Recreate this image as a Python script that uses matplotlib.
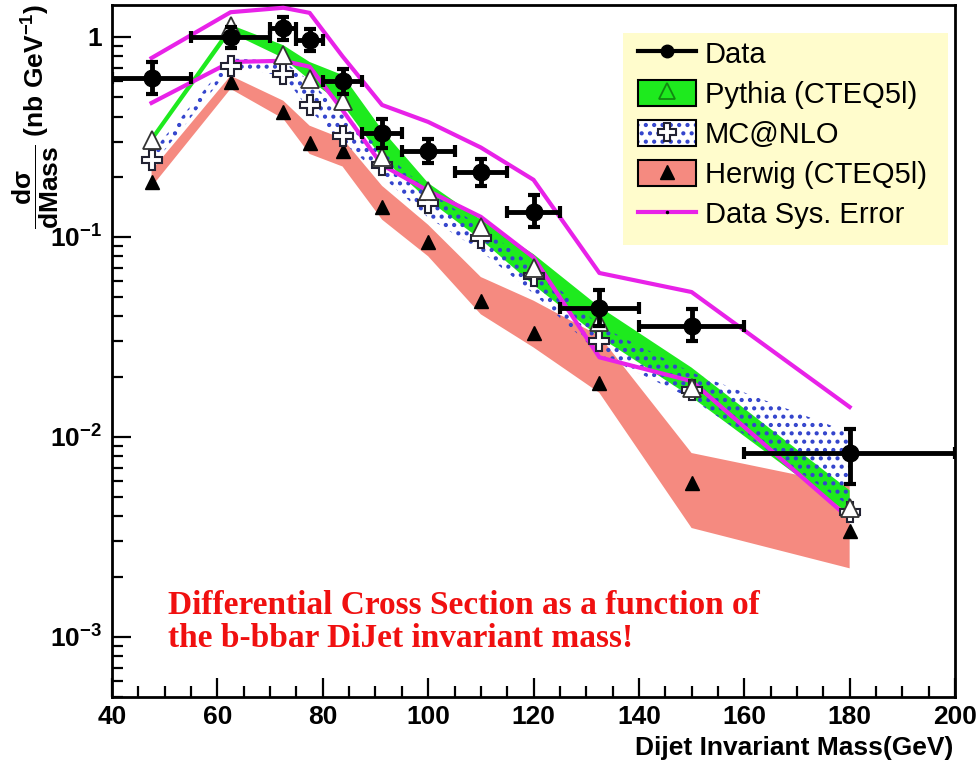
import matplotlib
matplotlib.use('Agg')
import matplotlib.pyplot as plt
from matplotlib.lines import Line2D
from matplotlib.patches import Patch, Rectangle
from matplotlib.ticker import MultipleLocator, LogLocator, NullFormatter

plt.rcParams['font.family'] = ['Liberation Sans', 'DejaVu Sans']
plt.rcParams['mathtext.fontset'] = 'custom'
plt.rcParams['mathtext.rm'] = 'Liberation Sans'
plt.rcParams['mathtext.bf'] = 'Liberation Sans:bold'
plt.rcParams['mathtext.it'] = 'Liberation Sans:italic'
plt.rcParams['hatch.linewidth'] = 1.8

# bin centres and edges (GeV)
mass = [47.5, 62.5, 72.5, 77.5, 83.75, 91.25, 100, 110, 120, 132.5, 150, 180]
mass_lo = [40, 55, 70, 75, 80, 87.5, 95, 105, 115, 125, 140, 160]
mass_hi = [55, 70, 75, 80, 87.5, 95, 105, 115, 125, 140, 160, 200]

# measured cross section (nb/GeV)
data = [0.62, 1.0, 1.11, 0.97, 0.60, 0.33, 0.27, 0.21, 0.133, 0.044, 0.036, 0.0083]
data_err_lo = [0.10, 0.12, 0.14, 0.12, 0.08, 0.05, 0.035, 0.03, 0.021, 0.008, 0.006, 0.0025]
data_err_hi = [0.13, 0.12, 0.15, 0.12, 0.09, 0.06, 0.04, 0.035, 0.029, 0.010, 0.0075, 0.0027]

# systematic error envelope
sys_hi = [0.785, 1.33, 1.40, 1.32, 0.80, 0.457, 0.376, 0.28, 0.193, 0.066, 0.053, 0.0141]
sys_lo = [0.468, 0.75, 0.76, 0.71, 0.43, 0.229, 0.17, 0.126, 0.079, 0.025, 0.019, 0.0039]

# Pythia (CTEQ5l)
pythia = [0.305, 1.13, 0.81, 0.617, 0.479, 0.25, 0.17, 0.112, 0.070, 0.0375, 0.0176, 0.0044]
pythia_hi = [0.32, 1.15, 0.91, 0.75, 0.645, 0.343, 0.186, 0.122, 0.082, 0.0447, 0.0222, 0.0054]
pythia_lo = [0.295, 1.05, 0.785, 0.61, 0.46, 0.248, 0.153, 0.097, 0.0575, 0.0316, 0.0158, 0.0041]

# MC@NLO
mcnlo = [0.242, 0.72, 0.65, 0.457, 0.32, 0.229, 0.148, 0.099, 0.064, 0.030, 0.0172, 0.0042]
mcnlo_hi = [0.265, 0.78, 0.76, 0.60, 0.42, 0.27, 0.17, 0.112, 0.072, 0.036, 0.021, 0.0105]
mcnlo_lo = [0.225, 0.70, 0.64, 0.43, 0.30, 0.20, 0.125, 0.085, 0.052, 0.026, 0.0155, 0.0045]

# Herwig (CTEQ5l)
herwig = [0.188, 0.596, 0.42, 0.295, 0.27, 0.141, 0.094, 0.048, 0.033, 0.0186, 0.0059, 0.0034]
herwig_hi = [0.215, 0.64, 0.48, 0.36, 0.31, 0.18, 0.115, 0.063, 0.048, 0.032, 0.0083, 0.0057]
herwig_lo = [0.178, 0.55, 0.39, 0.26, 0.225, 0.122, 0.08, 0.041, 0.028, 0.0166, 0.0035, 0.0022]

GREEN = '#1eea1e'
SALMON = '#f58a80'
BLUE = '#3344cc'
MAGENTA = '#e822e8'

fig = plt.figure(figsize=(9.76, 7.71), dpi=100)
ax = fig.add_axes([0.1148, 0.096, 0.8637, 0.8975])

ax.fill_between(mass, herwig_lo, herwig_hi, facecolor=SALMON, edgecolor='none', zorder=1)
ax.fill_between(mass, pythia_lo, pythia_hi, facecolor=GREEN, edgecolor='none', zorder=2)
ax.fill_between(mass, mcnlo_lo, mcnlo_hi, facecolor='none', edgecolor=BLUE,
                hatch='..', linewidth=0, zorder=3)

ax.plot(mass, sys_hi, color=MAGENTA, lw=3, zorder=4)
ax.plot(mass, sys_lo, color=MAGENTA, lw=3, zorder=4)

ax.plot(mass, herwig, ls='none', marker='^', ms=10, color='black', zorder=5)
ax.plot(mass, mcnlo, ls='none', marker='P', ms=14, mfc='white', mec='#222233', mew=1.5, zorder=5)
ax.plot(mass, pythia, ls='none', marker='^', ms=13, mfc='white', mec='#333333', mew=1.3, zorder=5)

xerr = [[m - lo for m, lo in zip(mass, mass_lo)], [hi - m for m, hi in zip(mass, mass_hi)]]
ax.errorbar(mass, data, xerr=xerr, yerr=[data_err_lo, data_err_hi], fmt='o', ms=12,
            color='black', ecolor='black', elinewidth=3.5, capsize=4, capthick=3, zorder=6)

ax.set_yscale('log')
ax.set_xlim(40, 200)
ax.set_ylim(5.0e-4, 1.445)

ax.set_yticks([1e-3, 1e-2, 1e-1, 1])
ax.set_yticklabels([r'$\mathbf{10^{-3}}$', r'$\mathbf{10^{-2}}$', r'$\mathbf{10^{-1}}$', '1'])
ax.yaxis.set_minor_locator(LogLocator(base=10, subs=range(2, 10)))
ax.yaxis.set_minor_formatter(NullFormatter())
ax.xaxis.set_major_locator(MultipleLocator(20))
ax.xaxis.set_minor_locator(MultipleLocator(5))

ax.tick_params(which='both', direction='in', top=False, right=False, width=1.6)
ax.tick_params(which='major', length=14)
ax.tick_params(which='minor', length=8)
ax.tick_params(axis='x', pad=6)
ax.tick_params(axis='y', pad=7)
for lab in ax.get_xticklabels() + ax.get_yticklabels():
    lab.set_fontsize(19)
    lab.set_fontweight('bold')
for sp in ax.spines.values():
    sp.set_linewidth(2)

fig.text(953 / 976, 1 - 748 / 771, 'Dijet Invariant Mass(GeV)', ha='right', va='center',
         fontsize=19, fontweight='bold')
fig.text(36 / 976, 1 - 4 / 771, r'$\mathbf{\dfrac{d\sigma}{dMass}}$ (nb GeV$^{\mathbf{-1}}$)',
         rotation=90, ha='center', va='top', fontsize=19, fontweight='bold')

ax.text(0.066, 0.154, 'Differential Cross Section as a function of\nthe b-bbar DiJet invariant mass!',
        transform=ax.transAxes, ha='left', va='top', fontsize=24, fontweight='bold',
        family=['Liberation Serif'], color='#f01010', linespacing=1.05)

# legend: yellow box drawn separately, legend itself frameless
ax.add_patch(Rectangle((623 / 976, 1 - 245 / 771), 325 / 976, 212 / 771,
                       transform=fig.transFigure, facecolor='#fffccc', edgecolor='none',
                       zorder=9, clip_on=False))

h_data = Line2D([], [], color='black', lw=3, marker='o', ms=9)
h_pythia = (Patch(facecolor=GREEN, edgecolor='black', lw=1.5),
            Line2D([], [], ls='none', marker='^', ms=12, mfc='none', mec='#118811', mew=1.3))
h_mcnlo = (Patch(facecolor='white', edgecolor=BLUE, hatch='..', lw=0),
           Patch(fill=False, edgecolor='black', lw=1.5),
           Line2D([], [], ls='none', marker='P', ms=13, mfc='white', mec='#222233', mew=1.5))
h_herwig = (Patch(facecolor=SALMON, edgecolor='black', lw=1.5),
            Line2D([], [], ls='none', marker='^', ms=10, color='black'))
h_sys = Line2D([], [], color=MAGENTA, lw=3, marker='.', ms=3, mfc='black', mec='black')

leg = ax.legend([h_data, h_pythia, h_mcnlo, h_herwig, h_sys],
                ['Data', 'Pythia (CTEQ5l)', 'MC@NLO', 'Herwig (CTEQ5l)', 'Data Sys. Error'],
                loc='upper left', bbox_to_anchor=(632 / 976, 1 - 34 / 771),
                bbox_transform=fig.transFigure, fontsize=21, frameon=False,
                borderpad=0.2, labelspacing=0.38, handlelength=2.0,
                handleheight=1.0, handletextpad=0.3, borderaxespad=0)
leg.set_zorder(10)

fig.savefig('out.png', dpi=100)
